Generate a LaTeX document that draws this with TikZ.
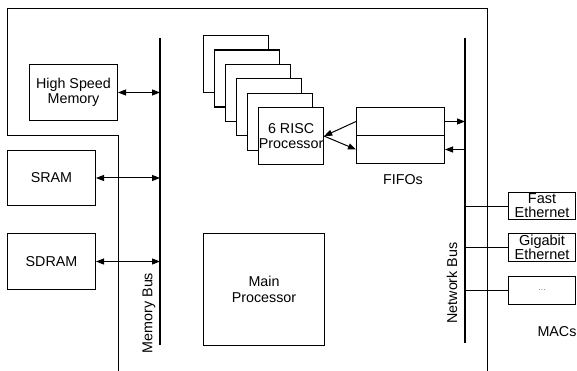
\documentclass[tikz,border=0pt]{standalone}
\usepackage{fontspec}
\setmainfont{Liberation Sans}
\usepackage{tikz}
\usetikzlibrary{positioning, arrows.meta}

\tikzset{
  blocco/.style={draw, line width=1pt, inner sep=0pt, anchor=north west,
    align=center, font=\fontsize{14.3}{15.5}\selectfont},
  etichetta/.style={inner sep=0pt, font=\fontsize{14.3}{15.5}\selectfont},
  bus/.style={line width=2.6pt},
  freccia/.style={line width=1pt, -{Triangle[length=8pt,width=6pt]}},
  doppia/.style={line width=1pt, {Triangle[length=8pt,width=6pt]}-{Triangle[length=8pt,width=6pt]}},
}

\begin{document}
\begin{tikzpicture}[x=1pt, y=-1pt]

    \useasboundingbox (0,0) rectangle (577,371);

    % contorno
    \draw[line width=0.9pt] (118,371) -- (118,135) -- (7,135) -- (7,8) -- (487,8) -- (487,371);

    % bus
    \coordinate (mtop) at (160,38);
    \coordinate (mbot) at (160,345);
    \coordinate (ntop) at (465,38);
    \coordinate (nbot) at (465,343);
    \draw[bus] (mtop) -- (mbot);
    \draw[bus] (ntop) -- (nbot);
    \node[etichetta, rotate=90] (mlab) at (149,313) {Memory Bus};
    \node[etichetta, rotate=90] (nlab) at (452,283) {Network Bus};

    % memorie
    \node[blocco, minimum width=88pt, minimum height=56pt] (hsm) at (29,64) {High Speed\\Memory};
    \node[blocco, minimum width=88pt, minimum height=55pt] (sram) at (7,150) {SRAM};
    \node[blocco, minimum width=88pt, minimum height=56pt] (sdram) at (7,233) {SDRAM};
    \draw[doppia] (hsm.east) -- (hsm.east -| mtop);
    \draw[doppia] (sram.east) -- (sram.east -| mtop);
    \draw[doppia] (sdram.east) -- (sdram.east -| mtop);

    % processore principale
    \node[blocco, minimum width=121pt, minimum height=112pt] (main) at (203,233) {Main\\Processor};

    % processori RISC
    \foreach \i in {0,...,4}
        \node[blocco, fill=white, line width=1.2pt, minimum width=65pt, minimum height=57pt]
            (p\i) at ({203+11*\i},{35+14.4*\i}) {};
    \node[blocco, fill=white, line width=1.2pt, minimum width=65pt, minimum height=57pt]
        (p5) at (258,107) {6 RISC\\Processor};

    % FIFO
    \node[blocco, minimum width=88pt, minimum height=28pt] (fifo1) at (356,107) {};
    \node[blocco, minimum width=88pt, minimum height=28pt] (fifo2) at (356,135) {};
    \node[etichetta] (flab) at (403,180) {FIFOs};
    \draw[freccia] (fifo1.west) -- (p5.east);
    \draw[freccia] (p5.east) -- (fifo2.west);
    \draw[freccia] (fifo1.east) -- (fifo1.east -| ntop);
    \draw[freccia] (fifo2.east -| ntop) -- (fifo2.east);

    % MAC
    \node[blocco, minimum width=67pt, minimum height=27pt, font=\fontsize{14.5}{14}\selectfont] (fast) at (508,192) {Fast\\Ethernet};
    \node[blocco, minimum width=67pt, minimum height=28pt, font=\fontsize{14.5}{14}\selectfont] (giga) at (508,233) {Gigabit\\Ethernet};
    \node[blocco, minimum width=67pt, minimum height=28pt, font=\fontsize{9}{10}\selectfont, text=gray] (altro) at (508,276) {...};
    \draw[line width=0.9pt] (fast.west -| ntop) -- (fast.west);
    \draw[line width=0.9pt] (giga.west -| ntop) -- (giga.west);
    \draw[line width=0.9pt] (altro.west -| ntop) -- (altro.west);
    \node[etichetta] (maclab) at (557,332) {MACs};

\end{tikzpicture}
\end{document}
